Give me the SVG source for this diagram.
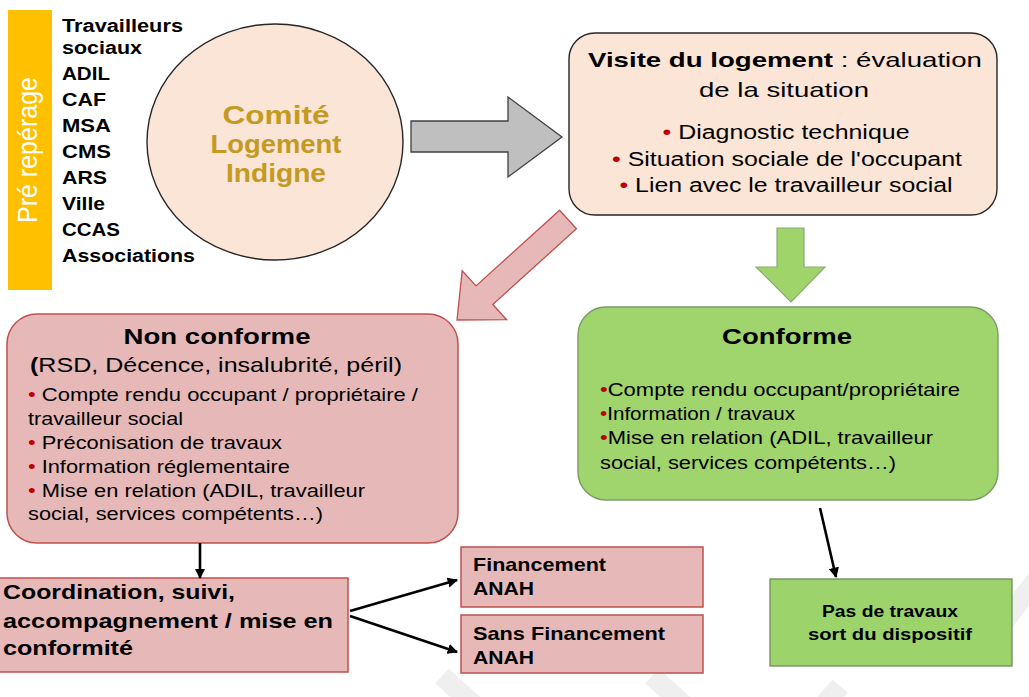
<svg xmlns="http://www.w3.org/2000/svg" width="1029" height="697" viewBox="0 0 1029 697">
<style>
  text { font-family: "Liberation Sans", Arial, sans-serif; fill: #000; }
  .b { font-weight: bold; }
  .red { fill: #C00000; }
  .peach { fill: #FBE5D6; stroke: #262626; stroke-width: 1.4; }
  .pink { fill: #E6B9B8; stroke: #C0504D; stroke-width: 1.5; }
  .green { fill: #A0D46C; stroke: #7C9A68; stroke-width: 1.4; }
  .wm { stroke: #EFEFEF; stroke-width: 20; fill: none; }
  .conn { stroke: #000; stroke-width: 2.6; fill: none; marker-end: url(#ah); }
</style>
<defs>
  <marker id="ah" viewBox="0 0 10 10" refX="9" refY="5" markerWidth="4" markerHeight="4" orient="auto" markerUnits="strokeWidth">
    <path d="M0,0 L10,5 L0,10 z" fill="#000"/>
  </marker>
</defs>
<rect x="0" y="0" width="1029" height="697" fill="#FFFFFF"/>

<g id="watermark">
  <line class="wm" x1="442" y1="676" x2="474" y2="705"/>
  <line class="wm" x1="652" y1="676" x2="684" y2="705"/>
  <line class="wm" x1="824" y1="705" x2="840" y2="686"/>
  <line class="wm" x1="990" y1="640" x2="1040" y2="575"/>
</g>

<g id="prerep">
  <rect x="8" y="10" width="44" height="280" fill="#FFC000"/>
  <text transform="translate(37,150) scale(1.22,1) rotate(-90)" text-anchor="middle" font-size="22" textLength="146" lengthAdjust="spacingAndGlyphs" style="fill:#FFFFFF">Pré repérage</text>
</g>

<g id="acteurs" font-size="18">
  <text class="b" x="62" y="32" textLength="121" lengthAdjust="spacingAndGlyphs">Travailleurs</text>
  <text class="b" x="62" y="54" textLength="80" lengthAdjust="spacingAndGlyphs">sociaux</text>
  <text class="b" x="62" y="80" textLength="48" lengthAdjust="spacingAndGlyphs">ADIL</text>
  <text class="b" x="62" y="106" textLength="44" lengthAdjust="spacingAndGlyphs">CAF</text>
  <text class="b" x="62" y="132" textLength="49" lengthAdjust="spacingAndGlyphs">MSA</text>
  <text class="b" x="62" y="158" textLength="49" lengthAdjust="spacingAndGlyphs">CMS</text>
  <text class="b" x="62" y="184" textLength="45" lengthAdjust="spacingAndGlyphs">ARS</text>
  <text class="b" x="62" y="210" textLength="43" lengthAdjust="spacingAndGlyphs">Ville</text>
  <text class="b" x="62" y="236" textLength="58" lengthAdjust="spacingAndGlyphs">CCAS</text>
  <text class="b" x="62" y="262" textLength="133" lengthAdjust="spacingAndGlyphs">Associations</text>
</g>

<g id="comite">
  <ellipse class="peach" cx="275" cy="142" rx="128" ry="118"/>
  <g font-size="25" text-anchor="middle">
    <text class="b" x="276" y="124" textLength="107" lengthAdjust="spacingAndGlyphs" style="fill:#C49A22">Comité</text>
    <text class="b" x="276" y="153" textLength="131" lengthAdjust="spacingAndGlyphs" style="fill:#C49A22">Logement</text>
    <text class="b" x="276" y="182" textLength="100" lengthAdjust="spacingAndGlyphs" style="fill:#C49A22">Indigne</text>
  </g>
</g>

<g id="visite">
  <rect class="peach" x="569" y="33" width="428" height="182" rx="26"/>
  <text x="785" y="67" font-size="21" text-anchor="middle" textLength="394" lengthAdjust="spacingAndGlyphs"><tspan class="b">Visite du logement</tspan> : évaluation</text>
  <text x="784" y="97" font-size="21" text-anchor="middle" textLength="170" lengthAdjust="spacingAndGlyphs">de la situation</text>
  <text x="786" y="139" font-size="19.5" text-anchor="middle" textLength="247" lengthAdjust="spacingAndGlyphs"><tspan class="red">•</tspan> Diagnostic technique</text>
  <text x="787" y="166" font-size="19.5" text-anchor="middle" textLength="350" lengthAdjust="spacingAndGlyphs"><tspan class="red">•</tspan> Situation sociale de l'occupant</text>
  <text x="786" y="192" font-size="19.5" text-anchor="middle" textLength="333" lengthAdjust="spacingAndGlyphs"><tspan class="red">•</tspan> Lien avec le travailleur social</text>
</g>

<g id="nonconforme">
  <rect class="pink" x="7" y="314" width="451" height="229" rx="30"/>
  <text class="b" x="217" y="344" font-size="22" text-anchor="middle" textLength="187" lengthAdjust="spacingAndGlyphs">Non conforme</text>
  <text x="216" y="372" font-size="21" text-anchor="middle" textLength="372" lengthAdjust="spacingAndGlyphs"><tspan class="b">(</tspan>RSD, Décence, insalubrité, péril)</text>
  <g font-size="17.5">
    <text x="28" y="401" textLength="390" lengthAdjust="spacingAndGlyphs"><tspan class="red">•</tspan> Compte rendu occupant / propriétaire /</text>
    <text x="28" y="425" textLength="155" lengthAdjust="spacingAndGlyphs">travailleur social</text>
    <text x="28" y="449" textLength="254" lengthAdjust="spacingAndGlyphs"><tspan class="red">•</tspan> Préconisation de travaux</text>
    <text x="28" y="473" textLength="262" lengthAdjust="spacingAndGlyphs"><tspan class="red">•</tspan> Information réglementaire</text>
    <text x="28" y="497" textLength="337" lengthAdjust="spacingAndGlyphs"><tspan class="red">•</tspan> Mise en relation (ADIL, travailleur</text>
    <text x="28" y="520" textLength="295" lengthAdjust="spacingAndGlyphs">social, services compétents…)</text>
  </g>
</g>

<g id="coordination">
  <rect class="pink" x="-2" y="578" width="350" height="94"/>
  <g font-size="21">
    <text class="b" x="3" y="599" textLength="232" lengthAdjust="spacingAndGlyphs">Coordination, suivi,</text>
    <text class="b" x="3" y="628" textLength="330" lengthAdjust="spacingAndGlyphs">accompagnement  / mise en</text>
    <text class="b" x="3" y="655" textLength="130" lengthAdjust="spacingAndGlyphs">conformité</text>
  </g>
</g>

<g id="financement">
  <rect class="pink" x="461" y="547" width="242" height="60"/>
  <text class="b" x="473" y="571" font-size="17.7" textLength="133" lengthAdjust="spacingAndGlyphs">Financement</text>
  <text class="b" x="473" y="595" font-size="17.7" textLength="61" lengthAdjust="spacingAndGlyphs">ANAH</text>
</g>

<g id="sansfinancement">
  <rect class="pink" x="461" y="615" width="242" height="58"/>
  <text class="b" x="473" y="640" font-size="17.7" textLength="192" lengthAdjust="spacingAndGlyphs">Sans Financement</text>
  <text class="b" x="473" y="664" font-size="17.7" textLength="61" lengthAdjust="spacingAndGlyphs">ANAH</text>
</g>

<g id="conforme">
  <rect class="green" x="578" y="307" width="420" height="193" rx="28"/>
  <text class="b" x="787" y="344" font-size="22.5" text-anchor="middle" textLength="130" lengthAdjust="spacingAndGlyphs">Conforme</text>
  <g font-size="17.5">
    <text x="600" y="396" textLength="360" lengthAdjust="spacingAndGlyphs"><tspan class="red">•</tspan>Compte rendu occupant/propriétaire</text>
    <text x="600" y="420" textLength="195" lengthAdjust="spacingAndGlyphs"><tspan class="red">•</tspan>Information / travaux</text>
    <text x="600" y="444" textLength="333" lengthAdjust="spacingAndGlyphs"><tspan class="red">•</tspan>Mise en relation (ADIL, travailleur</text>
    <text x="600" y="469" textLength="296" lengthAdjust="spacingAndGlyphs">social, services compétents…)</text>
  </g>
</g>

<g id="pastravaux">
  <rect x="770" y="579" width="242" height="87" fill="#9CD46B" stroke="#6E8A5E" stroke-width="1.3"/>
  <text class="b" x="890" y="617" font-size="16" text-anchor="middle" textLength="136" lengthAdjust="spacingAndGlyphs">Pas de travaux</text>
  <text class="b" x="890" y="640" font-size="16" text-anchor="middle" textLength="164" lengthAdjust="spacingAndGlyphs">sort du dispositif</text>
</g>

<g id="connectors">
  <polygon points="411,121 508,121 508,97 562,137 508,177 508,152 411,152" fill="#BFBFBF" stroke="#404040" stroke-width="1.3"/>
  <polygon points="559.6,210.2 576.4,228.8 492.8,304.5 506.6,319.7 457,320 462.2,270.7 476,285.9" fill="#E6B9B8" stroke="#C0504D" stroke-width="1.3"/>
  <polygon points="777,228 804,228 804,267 825,267 791,302 756,267 777,267" fill="#9ED46A" stroke="#8CA878" stroke-width="1.2"/>
  <line class="conn" x1="200" y1="543" x2="200" y2="578"/>
  <line class="conn" x1="350" y1="611" x2="457" y2="580"/>
  <line class="conn" x1="350" y1="616" x2="457" y2="652"/>
  <line class="conn" x1="820" y1="508" x2="836" y2="577"/>
</g>
</svg>
